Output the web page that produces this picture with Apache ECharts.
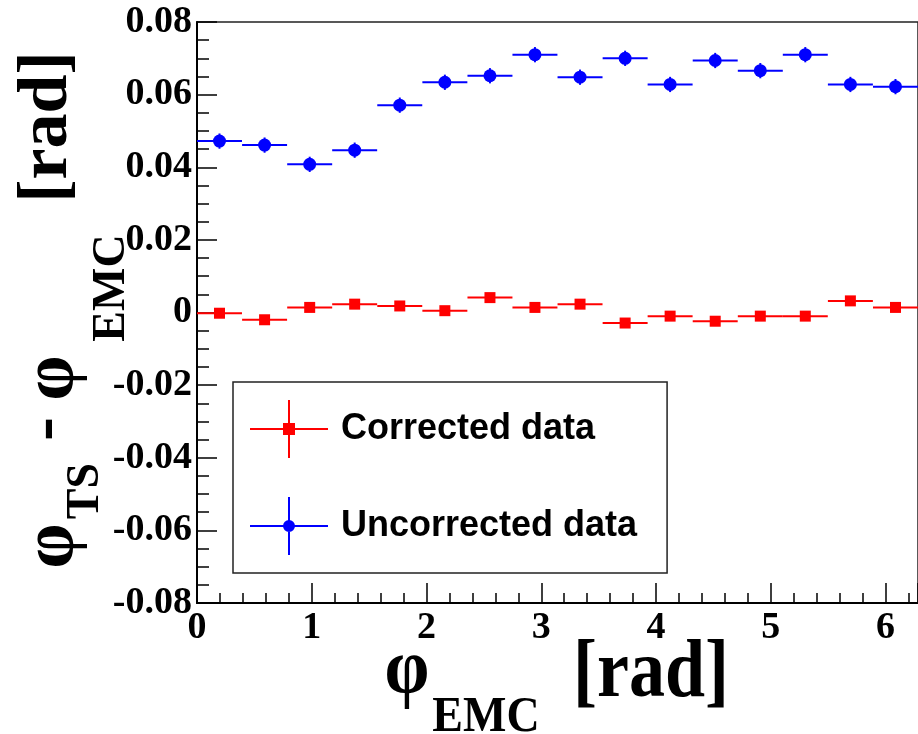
<!DOCTYPE html>
<html>
<head>
<meta charset="utf-8">
<style>
  html, body { margin: 0; padding: 0; background: #fff; }
  #chart { width: 918px; height: 734px; }
</style>
<script src="https://cdn.jsdelivr.net/npm/echarts@6/dist/echarts.min.js"></script>
</head>
<body>
<div id="chart"></div>
<script>
// bin centres of phi_EMC (16 bins over 0..2pi), half bin width
const binCenters = [0.196, 0.589, 0.982, 1.374, 1.767, 2.160, 2.553, 2.945,
  3.338, 3.731, 4.123, 4.516, 4.909, 5.301, 5.694, 6.087]
const binHalfWidth = 0.196

// phi_TS - phi_EMC per bin
const corrected = [-0.0002, -0.0020, 0.0014, 0.0023, 0.0018, 0.0005, 0.0041, 0.0014,
  0.0023, -0.0029, -0.0010, -0.0024, -0.0010, -0.0010, 0.0032, 0.0014]
const uncorrected = [0.0472, 0.0461, 0.0408, 0.0447, 0.0571, 0.0634, 0.0652, 0.0710,
  0.0648, 0.0700, 0.0628, 0.0694, 0.0666, 0.0710, 0.0628, 0.0622]
const correctedErr = 0.0012
const uncorrectedErr = 0.0021

const xMin = 0
const xMax = 6.2832
const yMin = -0.08
const yMax = 0.08

const serifFont = 'Liberation Serif'
const sansFont = 'Liberation Sans'

function toPoints(values, err) {
  return values.map((v, i) => [binCenters[i], v, binHalfWidth, err])
}

// draws one histogram point: horizontal bin bar, vertical error bar, marker
function errorPoint(color, marker) {
  return function (params, api) {
    const x = api.value(0)
    const y = api.value(1)
    const dx = api.value(2)
    const dy = api.value(3)
    const left = api.coord([x - dx, y])
    const right = api.coord([x + dx, y])
    const top = api.coord([x, y + dy])
    const bottom = api.coord([x, y - dy])
    const c = api.coord([x, y])
    const lineStyle = { stroke: color, lineWidth: 2 }
    const children = [
      { type: 'line', shape: { x1: left[0], y1: left[1], x2: right[0], y2: right[1] }, style: lineStyle },
      { type: 'line', shape: { x1: top[0], y1: top[1], x2: bottom[0], y2: bottom[1] }, style: lineStyle }
    ]
    if (marker === 'rect') {
      children.push({ type: 'rect', shape: { x: c[0] - 5.5, y: c[1] - 5.5, width: 11, height: 11 }, style: { fill: color } })
    } else {
      children.push({ type: 'circle', shape: { cx: c[0], cy: c[1], r: 6.5 }, style: { fill: color } })
    }
    return { type: 'group', children: children }
  }
}

const redIcon = 'path://M0,28 L78,28 L78,30 L0,30 Z M38,0 L40,0 L40,58 L38,58 Z M33,23 L45,23 L45,35 L33,35 Z'
const blueIcon = 'path://M0,28 L78,28 L78,30 L0,30 Z M38,0 L40,0 L40,58 L38,58 Z M33,29 A6,6 0 1,1 45,29 A6,6 0 1,1 33,29 Z'

const chart = echarts.init(document.getElementById('chart'))

chart.setOption({
  animation: false,
  grid: {
    left: 197,
    top: 22,
    right: -2,
    bottom: 131,
    show: true,
    borderColor: '#222',
    borderWidth: 1.5,
    backgroundColor: 'transparent'
  },
  legend: {
    orient: 'vertical',
    left: 233,
    top: 382,
    padding: [18, 30, 18, 17],
    itemWidth: 78,
    itemHeight: 58,
    itemGap: 39,
    selectedMode: false,
    borderColor: '#222',
    borderWidth: 1.5,
    backgroundColor: '#fff',
    textStyle: {
      fontFamily: sansFont,
      fontWeight: 'bold',
      fontSize: 36,
      color: '#000',
      padding: [0, 0, 0, 8]
    },
    data: [
      { name: 'Corrected data', icon: redIcon },
      { name: 'Uncorrected data', icon: blueIcon }
    ]
  },
  xAxis: {
    type: 'value',
    min: xMin,
    max: xMax,
    interval: 1,
    axisLine: { onZero: false, lineStyle: { color: '#000', width: 2 } },
    axisTick: { inside: true, length: 20, lineStyle: { color: '#000', width: 1.5 } },
    minorTick: { show: true, splitNumber: 5, length: 10, lineStyle: { color: '#000', width: 1.5 } },
    splitLine: { show: false },
    axisLabel: {
      showMaxLabel: false,
      margin: 6,
      fontFamily: serifFont,
      fontWeight: 'bold',
      fontSize: 38,
      color: '#000'
    }
  },
  yAxis: {
    type: 'value',
    min: yMin,
    max: yMax,
    interval: 0.02,
    axisLine: { show: true, onZero: false, lineStyle: { color: '#000', width: 2 } },
    axisTick: { show: true, inside: true, length: 20, lineStyle: { color: '#000', width: 1.5 } },
    minorTick: { show: true, splitNumber: 4, length: 12, lineStyle: { color: '#000', width: 1.5 } },
    splitLine: { show: false },
    axisLabel: {
      margin: 5,
      fontFamily: serifFont,
      fontWeight: 'bold',
      fontSize: 38,
      color: '#000'
    }
  },
  series: [
    {
      name: 'Corrected data',
      type: 'custom',
      itemStyle: { color: '#ff0000' },
      encode: { x: 0, y: 1 },
      clip: true,
      renderItem: errorPoint('#ff0000', 'rect'),
      data: toPoints(corrected, correctedErr),
      z: 3
    },
    {
      name: 'Uncorrected data',
      type: 'custom',
      itemStyle: { color: '#0000ff' },
      encode: { x: 0, y: 1 },
      clip: true,
      renderItem: errorPoint('#0000ff', 'circle'),
      data: toPoints(uncorrected, uncorrectedErr),
      z: 3
    }
  ],
  graphic: [
    // x axis title: phi_EMC [rad]
    { type: 'text', x: 407, y: 672, scaleY: 1.1, style: { text: 'φ', fontFamily: serifFont, fontWeight: 'bold', fontSize: 72, fill: '#000', align: 'center', verticalAlign: 'middle' } },
    { type: 'text', x: 486, y: 718, scaleY: 1.1, style: { text: 'EMC', fontFamily: serifFont, fontWeight: 'bold', fontSize: 46, fill: '#000', align: 'center', verticalAlign: 'middle' } },
    { type: 'text', x: 651, y: 675, scaleY: 1.15, style: { text: '[rad]', fontFamily: serifFont, fontWeight: 'bold', fontSize: 72, fill: '#000', align: 'center', verticalAlign: 'middle' } },
    // y axis title: phi_TS - phi_EMC [rad], reading upwards
    { type: 'text', x: 53, y: 546, rotation: Math.PI / 2, style: { text: 'φ', fontFamily: serifFont, fontWeight: 'bold', fontSize: 72, fill: '#000', align: 'center', verticalAlign: 'middle' } },
    { type: 'text', x: 86, y: 491, rotation: Math.PI / 2, style: { text: 'TS', fontFamily: serifFont, fontWeight: 'bold', fontSize: 46, fill: '#000', align: 'center', verticalAlign: 'middle' } },
    { type: 'text', x: 47, y: 429, rotation: Math.PI / 2, style: { text: '-', fontFamily: serifFont, fontWeight: 'bold', fontSize: 72, fill: '#000', align: 'center', verticalAlign: 'middle' } },
    { type: 'text', x: 53, y: 378, rotation: Math.PI / 2, style: { text: 'φ', fontFamily: serifFont, fontWeight: 'bold', fontSize: 72, fill: '#000', align: 'center', verticalAlign: 'middle' } },
    { type: 'text', x: 112, y: 288, rotation: Math.PI / 2, style: { text: 'EMC', fontFamily: serifFont, fontWeight: 'bold', fontSize: 46, fill: '#000', align: 'center', verticalAlign: 'middle' } },
    { type: 'text', x: 48, y: 127, rotation: Math.PI / 2, style: { text: '[rad]', fontFamily: serifFont, fontWeight: 'bold', fontSize: 70, fill: '#000', align: 'center', verticalAlign: 'middle' } }
  ]
})
</script>
</body>
</html>
